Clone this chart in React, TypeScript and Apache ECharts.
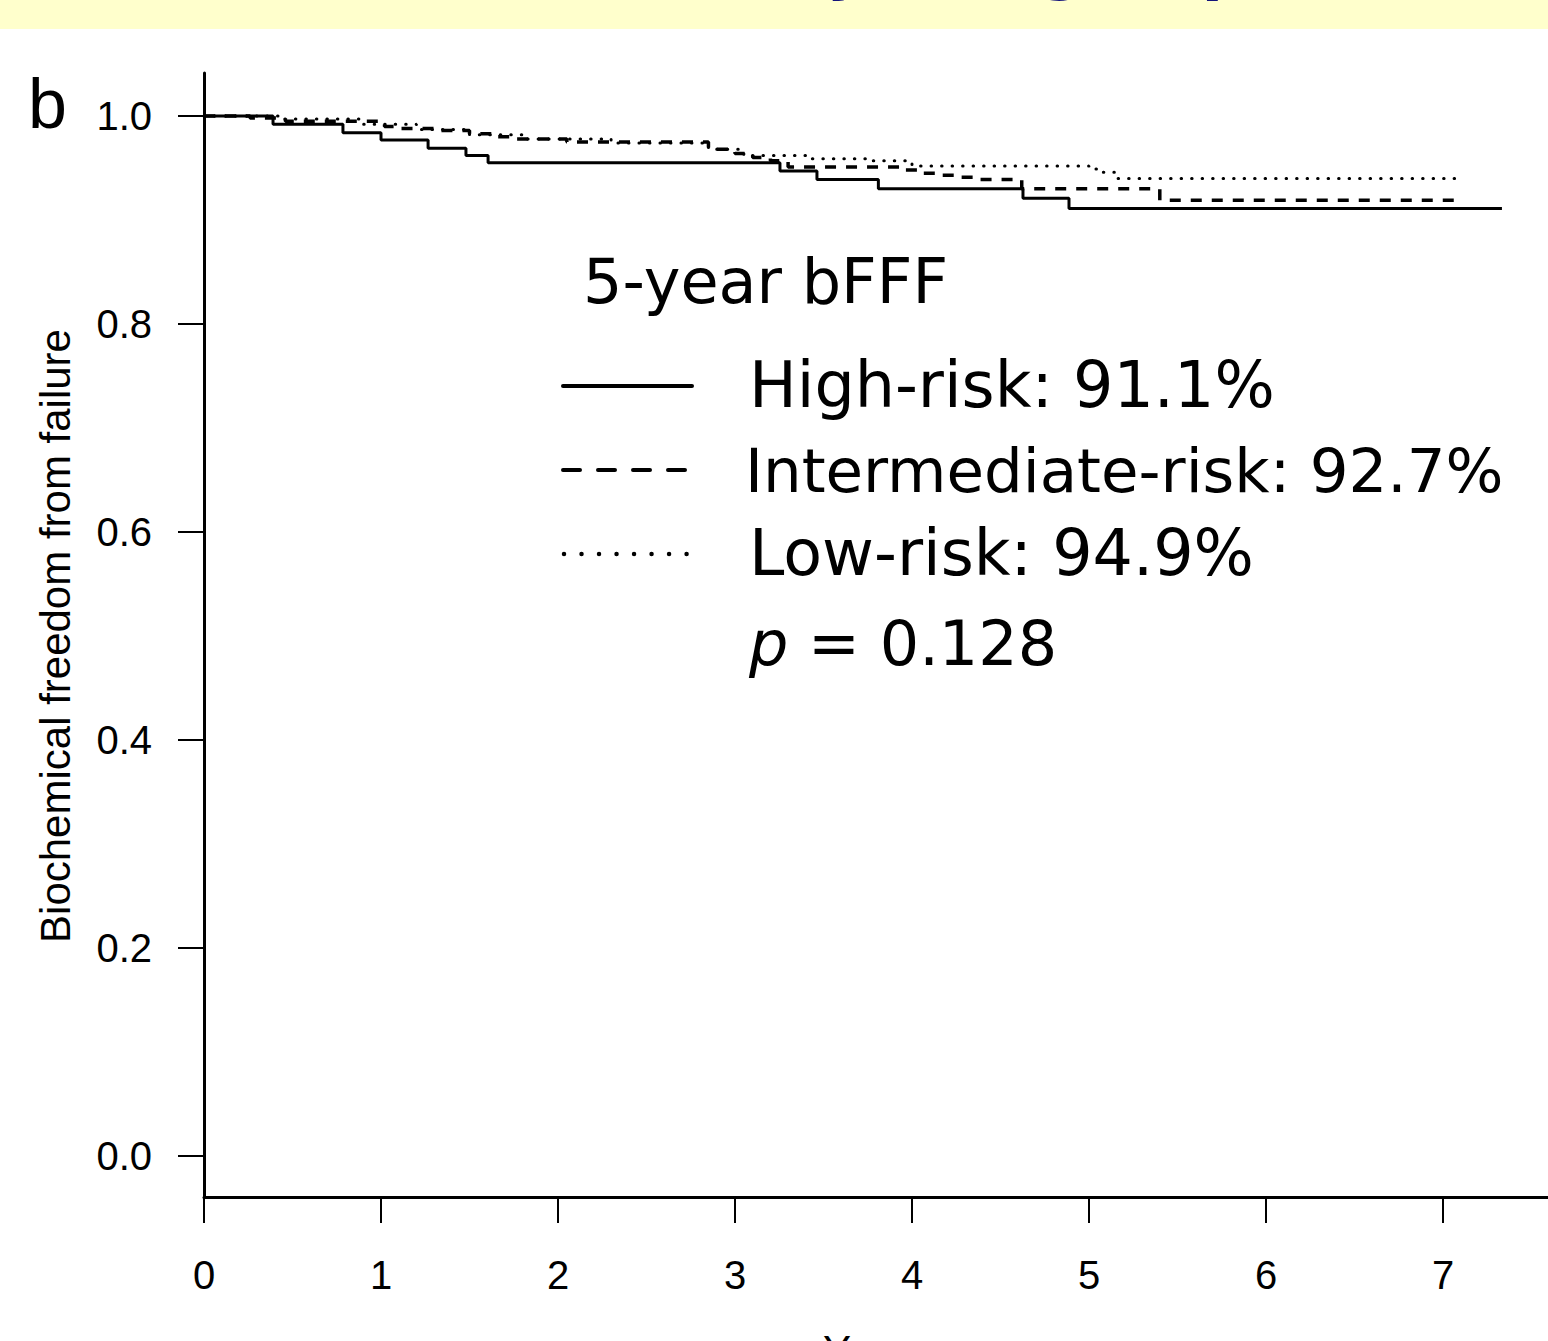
import React, { useEffect, useRef } from "react";
import * as echarts from "echarts";

// Kaplan-Meier step data (time in years, survival proportion)
const highT = [0, 0.39, 0.785, 1.0, 1.266, 1.48, 1.605, 3.254, 3.463, 3.81, 4.627, 4.887];
const highS = [1, 0.992, 0.984, 0.977, 0.969, 0.962, 0.955, 0.947, 0.939, 0.93, 0.921, 0.911];
const highEnd = 7.333;

const interT = [0, 0.26, 0.46, 1.02, 1.11, 1.33, 1.5, 1.64, 1.76, 2.05, 2.85, 3.0, 3.1, 3.2, 3.3, 3.95, 4.05, 4.17, 4.27, 4.37, 4.62, 5.4];
const interS = [1, 0.998, 0.995, 0.99, 0.988, 0.986, 0.983, 0.98, 0.978, 0.975, 0.968, 0.964, 0.96, 0.957, 0.951, 0.948, 0.945, 0.943, 0.941, 0.939, 0.93, 0.919];
const interEnd = 7.07;

const lowT = [0, 0.45, 0.9, 1.2, 1.5, 1.8, 2.3, 2.85, 3.05, 3.4, 3.75, 4.0, 5.0, 5.08, 5.16];
const lowS = [1, 0.997, 0.992, 0.987, 0.982, 0.978, 0.974, 0.968, 0.962, 0.959, 0.957, 0.952, 0.949, 0.946, 0.94];
const lowEnd = 7.07;

const xTicks = [0, 1, 2, 3, 4, 5, 6, 7];
const yTicks = [0, 0.2, 0.4, 0.6, 0.8, 1.0];

const legendLabels = ["High-risk: 91.1%", "Intermediate-risk: 92.7%", "Low-risk: 94.9%"];

function build(t: number[], s: number[], end: number) {
  const d = t.map((v, i) => [v, s[i]]);
  d.push([end, s[s.length - 1]]);
  return d;
}

export default function App() {
  const ref = useRef<HTMLDivElement>(null);
  useEffect(() => {
    if (!ref.current) return;
    const chart = echarts.init(ref.current, null, { renderer: "svg" });
    const sans = '"Liberation Sans", Arial, sans-serif';
    const dv = '"DejaVu Sans", Verdana, sans-serif';
    const option: any = {
      animation: false,
      backgroundColor: "#ffffff",
      grid: { left: 204, right: 0, top: 73, bottom: 144, containLabel: false },
      xAxis: {
        type: "value",
        min: 0,
        max: 1344 / 177,
        axisLine: { show: true, onZero: false, lineStyle: { color: "#000", width: 3 } },
        axisTick: { show: true, customValues: xTicks, length: 26, lineStyle: { color: "#000", width: 2 } },
        axisLabel: {
          show: true,
          customValues: xTicks,
          margin: 58,
          color: "#000",
          fontSize: 40,
          fontFamily: sans,
          formatter: (v: number) => String(Math.round(v)),
        },
        splitLine: { show: false },
      },
      yAxis: {
        type: "value",
        min: -41 / 1040,
        max: 1 + 43 / 1040,
        axisLine: { show: true, onZero: false, lineStyle: { color: "#000", width: 3 } },
        axisTick: { show: true, customValues: yTicks, length: 26, lineStyle: { color: "#000", width: 2 } },
        axisLabel: {
          show: true,
          customValues: yTicks,
          margin: 52,
          color: "#000",
          fontSize: 40,
          fontFamily: sans,
          formatter: (v: number) => v.toFixed(1),
        },
        splitLine: { show: false },
      },
      series: [
        {
          type: "line",
          name: "High-risk",
          step: "end",
          showSymbol: false,
          data: build(highT, highS, highEnd),
          lineStyle: { color: "#000", width: 3, type: "solid" },
          z: 3,
        },
        {
          type: "line",
          name: "Intermediate-risk",
          step: "end",
          showSymbol: false,
          data: build(interT, interS, interEnd),
          lineStyle: { color: "#000", width: 3.5, type: [11, 10] },
          z: 2,
        },
        {
          type: "line",
          name: "Low-risk",
          step: "end",
          showSymbol: false,
          data: build(lowT, lowS, lowEnd),
          lineStyle: { color: "#000", width: 3, type: [0.5, 10], cap: "round" },
          z: 1,
        },
      ],
      graphic: [
        { type: "rect", shape: { x: 0, y: 0, width: 1548, height: 29 }, style: { fill: "#ffffcc" }, z: 0 },
        {
          type: "text",
          x: 589,
          y: -34,
          style: {
            text: "bFFF by risk groups",
            fontSize: 62,
            fontWeight: "bold",
            fontFamily: dv,
            fill: "#14147a",
            textAlign: "left",
            textVerticalAlign: "middle",
          },
        },
        {
          type: "text",
          x: 28,
          y: 104,
          style: { text: "b", fontSize: 70, fontFamily: sans, fill: "#000", textAlign: "left", textVerticalAlign: "middle" },
        },
        {
          type: "text",
          x: 55,
          y: 636,
          rotation: Math.PI / 2,
          style: {
            text: "Biochemical freedom from failure",
            fontSize: 42,
            fontFamily: sans,
            fill: "#000",
            textAlign: "center",
            textVerticalAlign: "middle",
          },
        },
        {
          type: "text",
          x: 876,
          y: 1329,
          style: { text: "Years", fontSize: 42, fontFamily: sans, fill: "#000", textAlign: "center", textVerticalAlign: "top" },
        },
        {
          type: "text",
          x: 583,
          y: 281,
          style: { text: "5-year bFFF", fontSize: 62, fontFamily: dv, fill: "#000", textAlign: "left", textVerticalAlign: "middle" },
        },
        {
          type: "line",
          shape: { x1: 563, y1: 386, x2: 692, y2: 386 },
          style: { stroke: "#000", lineWidth: 4, lineCap: "round" },
        },
        {
          type: "line",
          shape: { x1: 563, y1: 470, x2: 685, y2: 470 },
          style: { stroke: "#000", lineWidth: 4, lineDash: [17, 18], lineCap: "round" },
        },
        {
          type: "line",
          shape: { x1: 564, y1: 554, x2: 690, y2: 554 },
          style: { stroke: "#000", lineWidth: 4.5, lineDash: [0.01, 17.5], lineCap: "round" },
        },
        {
          type: "text",
          x: 749,
          y: 385,
          style: { text: legendLabels[0], fontSize: 63.5, fontFamily: dv, fill: "#000", textAlign: "left", textVerticalAlign: "middle" },
        },
        {
          type: "text",
          x: 745,
          y: 470,
          style: { text: legendLabels[1], fontSize: 61, fontFamily: dv, fill: "#000", textAlign: "left", textVerticalAlign: "middle" },
        },
        {
          type: "text",
          x: 749,
          y: 553,
          style: { text: legendLabels[2], fontSize: 63.5, fontFamily: dv, fill: "#000", textAlign: "left", textVerticalAlign: "middle" },
        },
        {
          type: "text",
          x: 749,
          y: 643,
          style: {
            text: "{i|p} = 0.128",
            fontSize: 62,
            fontFamily: dv,
            fill: "#000",
            textAlign: "left",
            textVerticalAlign: "middle",
            rich: { i: { fontStyle: "italic", fontSize: 62, fontFamily: dv, fill: "#000" } },
          },
        },
      ],
    };
    chart.setOption(option);
    return () => chart.dispose();
  }, []);
  return (
    <div
      ref={ref}
      style={{ position: "absolute", left: 0, top: 0, width: 1548, height: 1341, background: "#fff" }}
    />
  );
}
